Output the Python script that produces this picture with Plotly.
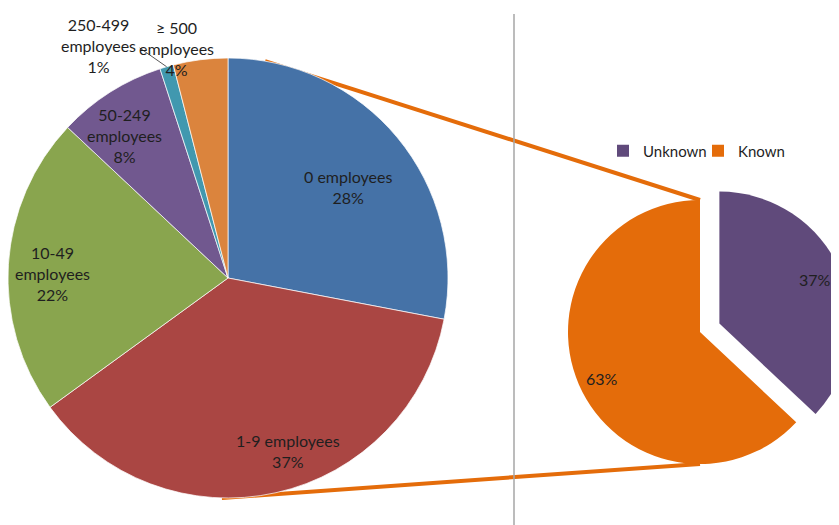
import math
import plotly.graph_objects as go

# ---------------- data ----------------
size_classes = ["0 employees", "1-9 employees", "10-49 employees",
                "50-249 employees", "250-499 employees", "≥ 500 employees"]
size_labels = ["0 employees", "1-9 employees", "10-49<br>employees",
               "50-249<br>employees", "250-499<br>employees", "≥ 500<br>employees"]
size_share = [28, 37, 22, 8, 1, 4]

status = ["Unknown", "Known"]
status_share = [37, 63]

# ---------------- style / layout ----------------
W, H = 860, 525          # figure size (page body adds an 8px margin)
OFF = 8
FONT = "Lato, 'Open Sans', sans-serif"
TXT = "#1f1f1f"
left_colors = ["#4572A7", "#AA4643", "#89A54E", "#71588F", "#4198AF", "#DB843D"]
right_colors = ["#604A7B", "#E46C0A"]
LINE_ORANGE = "#E46C0A"

LC = (228, 278); LR = 220           # left pie centre / radius (screen px)
RC = (700, 332); RR = 132           # right pie centre / radius (screen px)
PULL = 0.16

# label placement: (angle offset deg, radius fraction)
left_label_pos = [(2.4, 0.685), (-6.5, 0.83), (-2.0, 0.80), (-3.6, 0.80), (-12.8, 1.21), (-5.5, 1.07)]
right_label_pos = [(-1.2, 0.80), (-2.2, 0.82)]


def px(x, y):
    return (x - OFF) / W, 1 - (y - OFF) / H


def polar(c, r, ang):
    a = math.radians(ang)
    return c[0] + r * math.sin(a), c[1] - r * math.cos(a)


def mid_angles(vals):
    tot = float(sum(vals))
    out, cum = [], 0.0
    for v in vals:
        out.append((cum + v / 2) / tot * 360)
        cum += v
    return out


def domain(c, half):
    x0, y1 = px(c[0] - half, c[1] - half)
    x1, y0 = px(c[0] + half, c[1] + half)
    return dict(x=[max(0, x0), min(1, x1)], y=[max(0, y0), min(1, y1)])


fig = go.Figure()

# left pie
fig.add_trace(go.Pie(
    labels=size_classes, values=size_share, sort=False, direction="clockwise",
    rotation=0, textinfo="none", hoverinfo="label+percent", showlegend=False,
    marker=dict(colors=left_colors, line=dict(color="rgba(255,255,255,0.7)", width=1)),
    domain=domain(LC, LR),
))

# right pie
fig.add_trace(go.Pie(
    labels=status, values=status_share, sort=False, direction="clockwise",
    rotation=0, textinfo="none", hoverinfo="label+percent", showlegend=True,
    pull=[PULL, 0],
    marker=dict(colors=right_colors, line=dict(width=0)),
    domain=domain(RC, RR * (1 + PULL)),
))

annotations = []
tot = sum(size_share)
for lab, v, ang, (da, rf) in zip(size_labels, size_share, mid_angles(size_share), left_label_pos):
    xp, yp = px(*polar(LC, rf * LR, ang + da))
    annotations.append(dict(x=xp, y=yp, xref="paper", yref="paper", showarrow=False,
                            xanchor="center", yanchor="middle",
                            text=f"{lab}<br>{round(v / tot * 100)}%",
                            font=dict(family=FONT, size=16, color=TXT), align="center"))

rtot = sum(status_share)
r_mids = mid_angles(status_share)
for i, (v, ang, (da, rf)) in enumerate(zip(status_share, r_mids, right_label_pos)):
    c = RC
    if i == 0:
        c = polar(RC, PULL * RR, ang)
    xp, yp = px(*polar(c, rf * RR, ang + da))
    annotations.append(dict(x=xp, y=yp, xref="paper", yref="paper", showarrow=False,
                            xanchor="center", yanchor="middle",
                            text=f"{round(v / rtot * 100)}%",
                            font=dict(family=FONT, size=16, color=TXT)))

shapes = []
# separator
sx, sy = px(514, 14)
shapes.append(dict(type="line", xref="paper", yref="paper",
                   x0=sx, x1=sx, y0=0, y1=sy,
                   line=dict(color="#A6A6A6", width=1.5)))
# leader line for the 250-499 slice
lm = mid_angles(size_share)[4]
p0 = px(*polar(LC, LR, lm))
p1 = px(*polar(LC, 1.12 * LR, lm - 4.8))
shapes.append(dict(type="line", xref="paper", yref="paper",
                   x0=p0[0], y0=p0[1], x1=p1[0], y1=p1[1],
                   line=dict(color="#595959", width=1)))
# connector lines
a0 = px(*polar(LC, LR, 9.7)); b0 = px(RC[0], RC[1] - RR)
a1 = px(*polar(LC, LR, 181.6)); b1 = px(RC[0], RC[1] + RR)
for a, b in ((a0, b0), (a1, b1)):
    shapes.append(dict(type="line", xref="paper", yref="paper",
                       x0=a[0], y0=a[1], x1=b[0], y1=b[1],
                       line=dict(color=LINE_ORANGE, width=4), layer="below"))

lx, ly = px(603, 151)
fig.update_layout(
    width=W, height=H,
    margin=dict(l=0, r=0, t=0, b=0),
    paper_bgcolor="white", plot_bgcolor="white",
    font=dict(family=FONT, size=15, color=TXT),
    legend=dict(orientation="h", x=lx, y=ly, xanchor="left", yanchor="middle",
                font=dict(family=FONT, size=15, color=TXT), itemwidth=30,
                entrywidth=50, bgcolor="rgba(0,0,0,0)"),
    annotations=annotations, shapes=shapes,
)

fig.write_html("out.html")
